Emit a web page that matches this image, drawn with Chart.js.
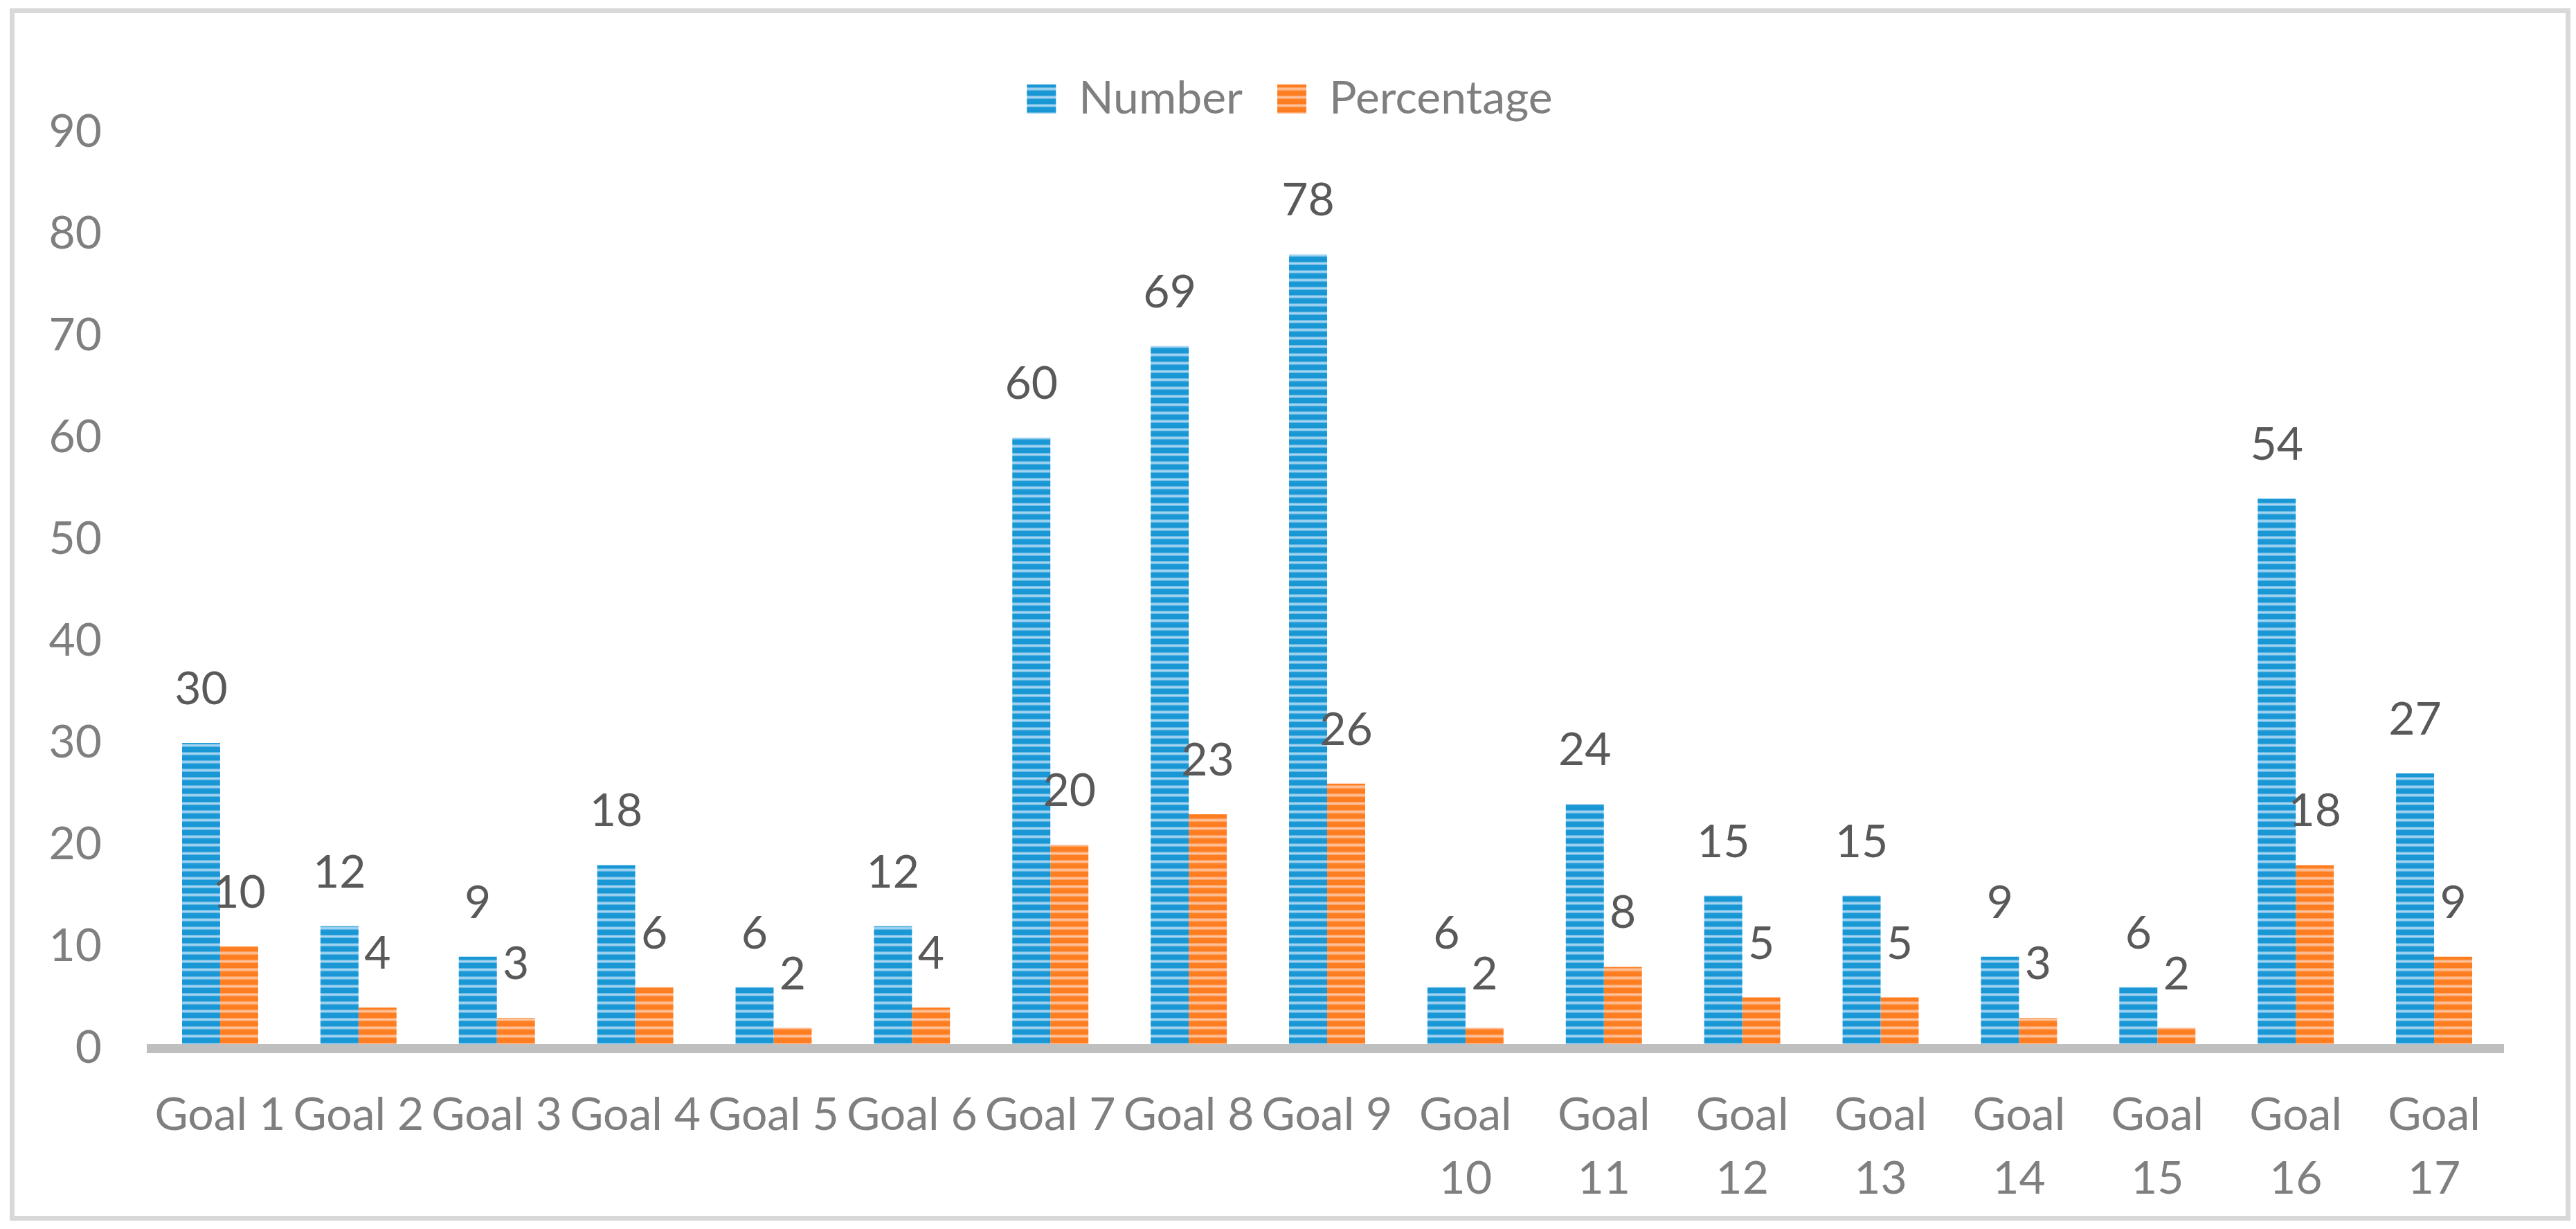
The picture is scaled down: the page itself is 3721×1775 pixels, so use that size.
<!DOCTYPE html>
<html>
<head>
<meta charset="utf-8">
<script src="https://cdn.jsdelivr.net/npm/chart.js@4.4.1/dist/chart.umd.min.js"></script>
<style>
  html, body { margin: 0; padding: 0; background: #fff; }
  #wrap { position: relative; width: 3721px; height: 1775px; }
  #frame {
    position: absolute; left: 14px; top: 12px; width: 3699px; height: 1751px;
    box-sizing: border-box; border: 7px solid #d9d9d9; pointer-events: none;
  }
  canvas { position: absolute; left: 0; top: 0; }
</style>
</head>
<body>
<div id="wrap">
  <canvas id="goalsChart" width="3721" height="1775"></canvas>
  <div id="frame"></div>
</div>
<script>
// ---------------------- DATOS ----------------------
const categories = [
  "Goal 1", "Goal 2", "Goal 3", "Goal 4", "Goal 5", "Goal 6", "Goal 7", "Goal 8", "Goal 9",
  ["Goal", "10"], ["Goal", "11"], ["Goal", "12"], ["Goal", "13"], ["Goal", "14"],
  ["Goal", "15"], ["Goal", "16"], ["Goal", "17"],
];
const numberValues = [30, 12, 9, 18, 6, 12, 60, 69, 78, 6, 24, 15, 15, 9, 6, 54, 27];
const percentageValues = [10, 4, 3, 6, 2, 4, 20, 23, 26, 2, 8, 5, 5, 3, 2, 18, 9];
const seriesNames = ["Number", "Percentage"];
const yMax = 90;
const yStep = 10;

// ---------------------- PATRONES (rayas horizontales) ----------------------
function stripePattern(rows) {
  const c = document.createElement("canvas");
  c.width = 8;
  c.height = rows.length;
  const g = c.getContext("2d");
  rows.forEach((col, i) => {
    g.fillStyle = col;
    g.fillRect(0, i, 8, 1);
  });
  return g.createPattern(c, "repeat");
}

const ctx = document.getElementById("goalsChart").getContext("2d");

const bluePattern = stripePattern([
  "#1d9bd8", "#1897d4", "#1897d4", "#1897d4", "#1897d4", "#1897d4",
  "#5cb4e2", "#94cdee", "#a9d7f2", "#94cdee", "#5cb4e2", "#1897d4",
]);
const orangePattern = stripePattern([
  "#fe8226", "#fd7d20", "#fd7d20", "#fd7d20", "#fd7d20", "#fd7d20",
  "#fea163", "#ffb88a", "#ffc49e", "#ffb88a", "#fea163", "#fd7d20",
]);

const textGray = "#7f7f7f";
const font = { family: "Lato", size: 66 };

// ---- etiquetas de valor encima de cada barra ----
const valueLabels = {
  id: "valueLabels",
  afterDatasetsDraw(chart) {
    const c = chart.ctx;
    c.save();
    c.font = "66px Lato";
    c.fillStyle = "#595959";
    c.textAlign = "center";
    c.textBaseline = "alphabetic";
    chart.data.datasets.forEach((ds, i) => {
      chart.getDatasetMeta(i).data.forEach((bar, j) => {
        c.fillText(String(ds.data[j]), bar.x, bar.y - 56);
      });
    });
    c.restore();
  },
};

// ---- leyenda: un poco mas alta y corrida a la derecha ----
const legendTweak = {
  id: "legendTweak",
  afterInit(chart) {
    const legend = chart.legend;
    if (!legend) return;
    const fit = legend.fit.bind(legend);
    legend.fit = function () {
      fit();
      this.height += 5;
    };
  },
  beforeDraw(chart) {
    const legend = chart.legend;
    if (!legend || legend._shifted) return;
    legend.left += 25;
    legend.right += 25;
    legend._shifted = true;
  },
  afterUpdate(chart) {
    if (chart.legend) chart.legend._shifted = false;
  },
};

// ---------------------- GRAFICO ----------------------
new Chart(ctx, {
  type: "bar",
  data: {
    labels: categories,
    datasets: [
      {
        label: seriesNames[0],
        data: numberValues,
        backgroundColor: bluePattern,
        borderWidth: 0,
      },
      {
        label: seriesNames[1],
        data: percentageValues,
        backgroundColor: orangePattern,
        borderWidth: 0,
      },
    ],
  },
  options: {
    responsive: false,
    devicePixelRatio: 1,
    animation: false,
    layout: { padding: { top: 60, left: 60, right: 105, bottom: 0 } },
    datasets: { bar: { barPercentage: 1, categoryPercentage: 0.55 } },
    plugins: {
      tooltip: { enabled: false },
      legend: {
        position: "top",
        labels: {
          color: textGray,
          font: font,
          boxWidth: 42,
          boxHeight: 42,
          padding: 50,
        },
      },
    },
    scales: {
      x: {
        offset: true,
        grid: { display: false, drawTicks: false },
        border: { display: true, color: "#bfbfbf", width: 13, z: 1 },
        ticks: {
          color: textGray,
          font: { family: "Lato", size: 66, lineHeight: 1.394 },
          padding: 51,
          autoSkip: false,
          maxRotation: 0,
          minRotation: 0,
        },
        afterFit(scale) {
          scale.height = 261;
        },
      },
      y: {
        min: 0,
        max: yMax,
        grid: { display: false, drawTicks: false },
        border: { display: false },
        ticks: {
          stepSize: yStep,
          color: textGray,
          font: font,
          padding: 71,
        },
        afterFit(scale) {
          scale.width = 158;
        },
      },
    },
  },
  plugins: [valueLabels, legendTweak],
});
</script>
</body>
</html>
